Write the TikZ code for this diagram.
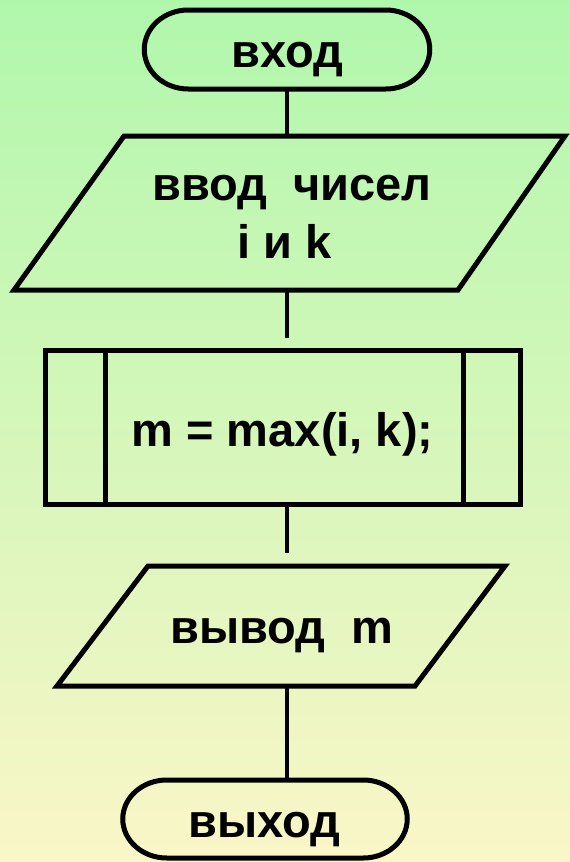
\documentclass[tikz,border=0pt]{standalone}
\usepackage{fontspec}
\setmainfont{Liberation Sans}
\definecolor{bgtop}{RGB}{176,247,172}
\definecolor{bgmid}{RGB}{238,246,190}
\definecolor{bgbot}{RGB}{250,246,200}
\begin{document}
\begin{tikzpicture}[x=1pt,y=-1pt,
  shapeline/.style={line width=5pt, line join=miter, draw=black},
  conn/.style={line width=4.5pt, draw=black},
  box/.style={minimum width=#1, inner sep=0pt, outer sep=0pt},
  lbl/.style={anchor=base, inner sep=0pt, font=\fontsize{47}{58}\selectfont\bfseries}]
\useasboundingbox (0,0) rectangle (570,862);
\shade[top color=bgtop, middle color=bgmid, bottom color=bgbot] (0,0) rectangle (570,862);

% start terminal
\node[box=285.5pt, minimum height=79pt] (t1) at (287,49.5) {};
\draw[shapeline] ([xshift=44pt]t1.north west) -- ([xshift=-44pt]t1.north east)
  arc[start angle=90, end angle=-90, x radius=44pt, y radius=39.5pt]
  -- ([xshift=44pt]t1.south west)
  arc[start angle=270, end angle=90, x radius=44pt, y radius=39.5pt] -- cycle;

% input parallelogram
\coordinate (p1tl) at (124,136);
\coordinate (p1tr) at (565,136);
\coordinate (p1br) at (458,290);
\coordinate (p1bl) at (14,290);
\draw[shapeline] (p1tl) -- (p1tr) -- (p1br) -- (p1bl) -- cycle;

% predefined process
\node[box=475pt, minimum height=154pt, shapeline] (proc) at (283,427.5) {};
\draw[shapeline] ([xshift=59.5pt]proc.north west) -- ([xshift=59.5pt]proc.south west);
\draw[shapeline] ([xshift=-57.5pt]proc.north east) -- ([xshift=-57.5pt]proc.south east);

% output parallelogram
\coordinate (p2tl) at (148,566);
\coordinate (p2tr) at (505,566);
\coordinate (p2br) at (415,686);
\coordinate (p2bl) at (57,686);
\draw[shapeline] (p2tl) -- (p2tr) -- (p2br) -- (p2bl) -- cycle;

% end terminal
\node[box=284.5pt, minimum height=78pt] (t2) at (265,819) {};
\draw[shapeline] ([xshift=44pt]t2.north west) -- ([xshift=-44pt]t2.north east)
  arc[start angle=90, end angle=-90, x radius=44pt, y radius=39pt]
  -- ([xshift=44pt]t2.south west)
  arc[start angle=270, end angle=90, x radius=44pt, y radius=39pt] -- cycle;

% connectors
\draw[conn] (t1.south) -- (t1.south |- p1tl);
\draw[conn, shorten >=12.5pt] (t1.south |- p1bl) -- (t1.south |- proc.north);
\draw[conn, shorten >=13pt] (t1.south |- proc.south) -- (t1.south |- p2tl);
\draw[conn] (t1.south |- p2bl) -- (t1.south |- t2.north);

% labels
\node[lbl] (l1) at (287,67) {вход};
\node[lbl] (l2a) at (292,200) {ввод\ \ чисел};
\node[lbl] (l2b) at (285,258) {i и k};
\node[lbl] (l3) at (282.5,446) {m = max(i, k);};
\node[lbl] (l4) at (282,643) {вывод\ \ m};
\node[lbl] (l5) at (264.5,837) {выход};
\end{tikzpicture}
\end{document}
